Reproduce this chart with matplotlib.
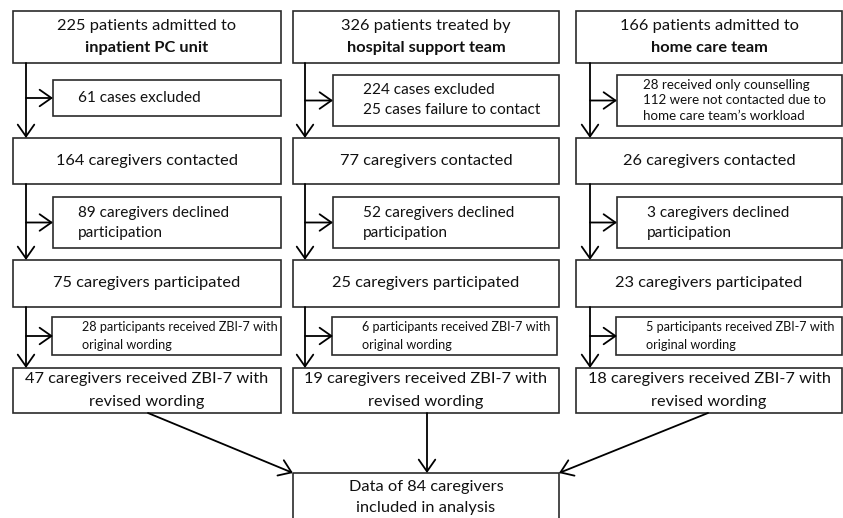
#!/usr/bin/env python3
"""Flow diagram of caregiver recruitment across three palliative care settings."""
import matplotlib
matplotlib.use("Agg")
import matplotlib.pyplot as plt
from matplotlib.patches import Rectangle, FancyArrowPatch

# --- data -------------------------------------------------------------------
SETTINGS = ["inpatient PC unit", "hospital support team", "home care team"]
SOURCE_VERB = ["admitted to", "treated by", "admitted to"]
PATIENTS = [225, 326, 166]
EXCLUDED_TEXT = [
    ["61 cases excluded"],
    ["224 cases excluded", "25 cases failure to contact"],
    ["28 received only counselling", "112 were not contacted due to",
     "home care team\u2019s workload"],
]
CONTACTED = [164, 77, 26]
DECLINED = [89, 52, 3]
PARTICIPATED = [75, 25, 23]
ORIGINAL_WORDING = [28, 6, 5]
REVISED_WORDING = [47, 19, 18]
ANALYSED = 84

# --- layout (pixel coordinates, y downwards) --------------------------------
W, H = 843, 518
MAIN_X = [(13, 281), (293, 559), (576, 842)]
SIDE_X0 = [53, 333, 617]
LINE_X = [26, 305, 590]
ROW_TOP = (11, 63)
ROW_EXCL = [(80, 116), (75, 126), (75, 126)]
ROW_CONT = (138, 184)
ROW_DECL = (197, 248)
ROW_PART = (260, 307)
ROW_ORIG = (317, 355)
ROW_REV = (368, 413)
ROW_FINAL = (473, 540)

EDGE = "#2b2b2b"
FONT = "Lato"
BIG, MID, SMALL = 11.8, 11.1, 9.1

fig = plt.figure(figsize=(W / 100, H / 100), dpi=100)
ax = fig.add_axes([0, 0, 1, 1])
ax.set_xlim(0, W)
ax.set_ylim(H, 0)
ax.axis("off")


def box(x0, x1, y0, y1):
    ax.add_patch(Rectangle((x0, y0), x1 - x0, y1 - y0, fill=False,
                           edgecolor=EDGE, linewidth=1.2))


def arrow(p0, p1):
    ax.add_patch(FancyArrowPatch(p0, p1, arrowstyle="->,head_length=5,head_width=3.5",
                                 color="black", linewidth=1.3,
                                 shrinkA=0, shrinkB=0, mutation_scale=1.7))


def centered(x0, x1, y0, y1, lines, size=BIG, bold_last=False, step=22.5):
    cx = (x0 + x1) / 2
    cy = (y0 + y1) / 2
    n = len(lines)
    for i, t in enumerate(lines):
        y = cy + (i - (n - 1) / 2) * step
        bold = bold_last and i == n - 1
        ax.text(cx, y, t, ha="center", va="center", fontsize=size,
                family=FONT, fontweight="bold" if bold else "normal", color="#111")


def left_text(x, y0, y1, lines, size, step):
    cy = (y0 + y1) / 2
    n = len(lines)
    for i, t in enumerate(lines):
        y = cy + (i - (n - 1) / 2) * step
        ax.text(x, y, t, ha="left", va="center", fontsize=size,
                family=FONT, color="#111")


for c in range(3):
    x0, x1 = MAIN_X[c]
    sx = SIDE_X0[c]
    lx = LINE_X[c]

    # main boxes
    box(x0, x1, *ROW_TOP)
    centered(x0, x1, *ROW_TOP, [f"{PATIENTS[c]} patients {SOURCE_VERB[c]}", SETTINGS[c]],
             bold_last=True)
    box(x0, x1, *ROW_CONT)
    centered(x0, x1, *ROW_CONT, [f"{CONTACTED[c]} caregivers contacted"])
    box(x0, x1, *ROW_PART)
    centered(x0, x1, *ROW_PART, [f"{PARTICIPATED[c]} caregivers participated"])
    box(x0, x1, *ROW_REV)
    centered(x0, x1, *ROW_REV, [f"{REVISED_WORDING[c]} caregivers received ZBI-7 with",
                                "revised wording"])

    # side boxes
    ey = ROW_EXCL[c]
    box(sx, x1, *ey)
    pad = 25 if c == 0 else 30
    if c == 2:
        left_text(sx + 26, *ey, EXCLUDED_TEXT[c], 9.6, 15.5)
    else:
        left_text(sx + pad, *ey, EXCLUDED_TEXT[c], MID, 20)
    box(sx, x1, *ROW_DECL)
    left_text(sx + pad, *ROW_DECL,
              [f"{DECLINED[c]} caregivers declined", "participation"], MID, 20)
    ox = sx - 1
    box(ox, x1 - (2 if c == 1 else 0), *ROW_ORIG)
    left_text(ox + 30, *ROW_ORIG,
              [f"{ORIGINAL_WORDING[c]} participants received ZBI-7 with",
               "original wording"], SMALL, 17.5)

    # vertical flow arrows with side branches
    for (top_row, side_row, bottom_row) in [
        (ROW_TOP, ey, ROW_CONT),
        (ROW_CONT, ROW_DECL, ROW_PART),
        (ROW_PART, ROW_ORIG, ROW_REV),
    ]:
        arrow((lx, top_row[1]), (lx, bottom_row[0]))
        my = (side_row[0] + side_row[1]) / 2
        arrow((lx, my), (sx, my))

# final box and converging arrows
fx0, fx1 = MAIN_X[1]
box(fx0, fx1, *ROW_FINAL)
ax.text((fx0 + fx1) / 2, 487, f"Data of {ANALYSED} caregivers", ha="center", va="center",
        fontsize=BIG, family=FONT, color="#111")
ax.text((fx0 + fx1) / 2, 508, "included in analysis", ha="center", va="center",
        fontsize=BIG, family=FONT, color="#111")
arrow((148, ROW_REV[1]), (fx0, ROW_FINAL[0]))
arrow((427, ROW_REV[1]), (427, ROW_FINAL[0]))
arrow((708, ROW_REV[1]), (fx1, ROW_FINAL[0]))

fig.savefig("out.png", dpi=100, facecolor="white")
